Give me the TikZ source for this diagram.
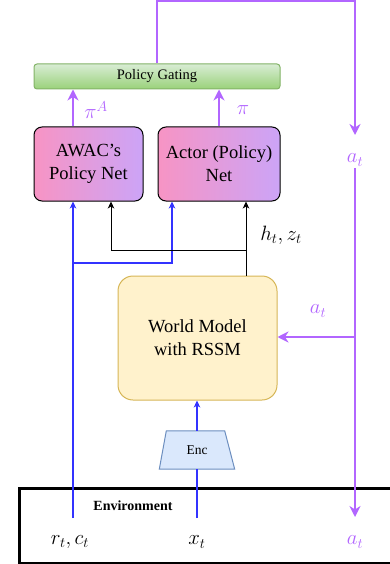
\documentclass[tikz,border=0pt]{standalone}
\usepackage{fontspec}
\setmainfont{Liberation Serif}
\usetikzlibrary{arrows.meta,calc}
\definecolor{pur}{RGB}{178,102,255}
\definecolor{blu}{RGB}{51,51,255}
\definecolor{pinkL}{RGB}{247,148,196}
\definecolor{lavR}{RGB}{204,164,247}
\definecolor{gtop}{RGB}{216,236,212}
\definecolor{gbot}{RGB}{154,210,122}
\definecolor{gbrd}{RGB}{130,179,102}
\definecolor{wmfill}{RGB}{255,242,204}
\definecolor{wmbrd}{RGB}{214,182,86}
\definecolor{encfill}{RGB}{218,232,252}
\definecolor{encbrd}{RGB}{108,142,191}
\tikzset{
  netbox/.style={draw=black, line width=1pt, rounded corners=8pt, shading=axis, left color=pinkL, right color=lavR, shading angle=90, align=center, inner sep=0pt, font=\fontsize{18.5}{23}\selectfont},
  gatebox/.style={draw=gbrd, line width=1pt, rounded corners=3pt, top color=gtop, bottom color=gbot, inner sep=0pt, minimum width=246pt, minimum height=25pt, font=\fontsize{14.5}{16}\selectfont},
  wmbox/.style={draw=wmbrd, fill=wmfill, line width=1pt, rounded corners=15pt, align=center, inner sep=0pt, minimum width=159pt, minimum height=124pt, font=\fontsize{18.5}{23}\selectfont},
  encnode/.style={inner sep=0pt, minimum width=75pt, minimum height=38pt, font=\fontsize{13.5}{15}\selectfont},
  encshape/.style={draw=encbrd, fill=encfill, line width=1pt},
  envbox/.style={draw=black, line width=2.5pt, minimum width=377pt, minimum height=75pt, anchor=north west, inner sep=0pt},
  purline/.style={draw=pur, line width=2pt},
  bluline/.style={draw=blu, line width=1.2pt},
  blkline/.style={draw=black, line width=1pt},
  ptip/.style={-{Stealth[length=11pt,width=11pt,inset=3.5pt]}},
  stip/.style={-{Stealth[length=7pt,width=6.5pt,inset=2pt]}},
  purlbl/.style={text=pur, inner sep=2pt, font=\fontsize{20}{23}\selectfont},
  mlbl/.style={inner sep=2pt, font=\fontsize{20.5}{23}\selectfont},
}
\begin{document}
\begin{tikzpicture}[x=1pt,y=-1pt]
\useasboundingbox (0,0) rectangle (389,564);
% nodes
\node[gatebox] (gate) at (157,76.5) {Policy Gating};
\node[netbox, minimum width=109pt, minimum height=74pt] (awac) at (88.5,164) {AWAC's\\Policy Net};
\node[netbox, minimum width=122pt, minimum height=74pt] (actor) at (219,164) {Actor (Policy)\\Net};
\node[wmbox] (wm) at (197.5,338) {World Model\\with RSSM};
\node[encnode] (enc) at (197,450) {};
\draw[encshape] (enc.south west) -- (enc.south east) -- ($(enc.north east)+(-10,0)$) -- ($(enc.north west)+(7,0)$) -- cycle;
\node[encnode] (enctext) at (enc.center) {Enc};
\node[envbox] (env) at (18,487) {};
\node[font=\bfseries\fontsize{14}{16}\selectfont] (envlbl) at (133,506) {Environment};
\node[mlbl] (rc) at (70,542) {$r_t, c_t$};
\node[mlbl] (xt) at (197,542) {$x_t$};
\node[purlbl] (aenv) at (355,542) {$a_t$};
\node[purlbl] (a1) at (355,160) {$a_t$};
\node[purlbl] (a2) at (318,311) {$a_t$};
\node[purlbl] (piA) at (96,110) {$\pi^A$};
\node[purlbl] (pi) at (243,110) {$\pi$};
\node[mlbl] (hz) at (281,235) {$h_t, z_t$};
% coordinates
\coordinate (tr) at (355,1);
\coordinate (atop) at (355,135);
\coordinate (abot) at (355,517);
\coordinate (br) at (355,337);
\coordinate (rcs) at (73,518);
\coordinate (bj) at (73,263);
\coordinate (bj2) at (172,263);
\coordinate (wmt) at (246,276);
\coordinate (kj) at (246,250);
\coordinate (kj2) at (111,250);
\coordinate (xs) at (197,518);
% purple connectors
\draw[purline,ptip] (gate.north) |- (tr) -- (atop);
\draw[purline,ptip] (a1.south) -- (abot);
\draw[purline,ptip] (br) -- (br -| wm.east);
\draw[purline,line width=1.3pt,ptip] (awac.north -| rcs) -- (gate.south -| rcs);
\draw[purline,line width=1.3pt,ptip] (actor.north) -- (gate.south -| actor.north);
% blue connectors
\draw[bluline,stip] (rcs) -- (rcs |- awac.south);
\draw[bluline,stip] (bj) -- (bj2) -- (bj2 |- actor.south);
\draw[bluline] (xs) -- (enc.south);
\draw[bluline,stip] (enc.north) -- (enc.north |- wm.south);
% black connectors
\draw[blkline,stip] (wmt) -- (wmt |- actor.south);
\draw[blkline,stip] (kj) -- (kj2) -- (kj2 |- awac.south);
\end{tikzpicture}
\end{document}
